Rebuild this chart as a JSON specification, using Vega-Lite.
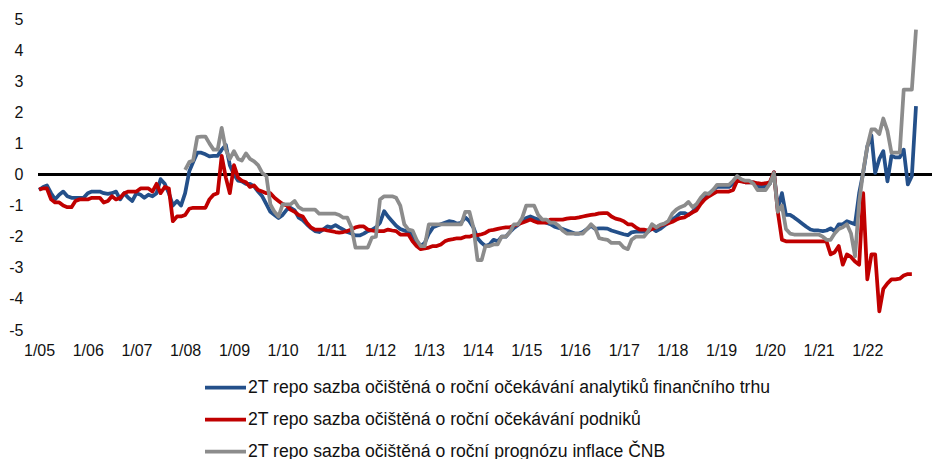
{
  "$schema": "https://vega.github.io/schema/vega-lite/v6.json",
  "width": 894,
  "height": 311,
  "autosize": {"type": "none"},
  "padding": {"left": 38, "top": 19, "right": 0, "bottom": 129},
  "config": {
    "font": "Liberation Sans",
    "view": {"stroke": null},
    "axis": {"labelFont": "Liberation Sans", "labelFontSize": 16, "labelColor": "#111111", "grid": false, "ticks": false, "domain": false, "title": null, "labelOverlap": false}
  },
  "data": {"values": [
    {"d":"2005-01-01","a":-0.5,"b":-0.48},{"d":"2005-02-01","a":-0.4,"b":-0.45},{"d":"2005-03-01","a":-0.35,"b":-0.45},{"d":"2005-04-01","a":-0.6,"b":-0.8},{"d":"2005-05-01","a":-0.8,"b":-0.9},{"d":"2005-06-01","a":-0.65,"b":-0.9},{"d":"2005-07-01","a":-0.55,"b":-1.0},{"d":"2005-08-01","a":-0.7,"b":-1.05},{"d":"2005-09-01","a":-0.75,"b":-1.05},{"d":"2005-10-01","a":-0.75,"b":-0.85},{"d":"2005-11-01","a":-0.75,"b":-0.8},{"d":"2005-12-01","a":-0.75,"b":-0.8},
    {"d":"2006-01-01","a":-0.6,"b":-0.8},{"d":"2006-02-01","a":-0.55,"b":-0.75},{"d":"2006-03-01","a":-0.55,"b":-0.75},{"d":"2006-04-01","a":-0.55,"b":-0.75},{"d":"2006-05-01","a":-0.6,"b":-0.9},{"d":"2006-06-01","a":-0.62,"b":-0.85},{"d":"2006-07-01","a":-0.6,"b":-0.7},{"d":"2006-08-01","a":-0.55,"b":-0.8},{"d":"2006-09-01","a":-0.8,"b":-0.75},{"d":"2006-10-01","a":-0.6,"b":-0.6},{"d":"2006-11-01","a":-0.75,"b":-0.55},{"d":"2006-12-01","a":-0.85,"b":-0.55},
    {"d":"2007-01-01","a":-0.6,"b":-0.55},{"d":"2007-02-01","a":-0.65,"b":-0.45},{"d":"2007-03-01","a":-0.75,"b":-0.45},{"d":"2007-04-01","a":-0.65,"b":-0.45},{"d":"2007-05-01","a":-0.7,"b":-0.55},{"d":"2007-06-01","a":-0.6,"b":-0.3},{"d":"2007-07-01","a":-0.15,"b":-0.6},{"d":"2007-08-01","a":-0.3,"b":-0.4},{"d":"2007-09-01","a":-0.6,"b":-0.45},{"d":"2007-10-01","a":-1.0,"b":-1.5},{"d":"2007-11-01","a":-0.85,"b":-1.35},{"d":"2007-12-01","a":-1.0,"b":-1.35},
    {"d":"2008-01-01","a":-0.6,"b":-1.3,"c":0.15},{"d":"2008-02-01","a":0.1,"b":-1.1,"c":0.4},{"d":"2008-03-01","a":0.4,"b":-1.07,"c":0.45},{"d":"2008-04-01","a":0.7,"b":-1.07,"c":1.2},{"d":"2008-05-01","a":0.7,"b":-1.07,"c":1.22},{"d":"2008-06-01","a":0.65,"b":-1.07,"c":1.22},{"d":"2008-07-01","a":0.58,"b":-0.8,"c":1.0},{"d":"2008-08-01","a":0.6,"b":-0.65,"c":0.8},{"d":"2008-09-01","a":0.6,"b":-0.6,"c":0.8},{"d":"2008-10-01","a":0.8,"b":0.6,"c":1.5},{"d":"2008-11-01","a":0.95,"b":-0.1,"c":0.8},{"d":"2008-12-01","a":0.3,"b":-0.6,"c":0.5},
    {"d":"2009-01-01","a":0.0,"b":0.3,"c":0.75},{"d":"2009-02-01","a":-0.2,"b":-0.1,"c":0.5},{"d":"2009-03-01","a":-0.22,"b":-0.2,"c":0.45},{"d":"2009-04-01","a":-0.3,"b":-0.25,"c":0.68},{"d":"2009-05-01","a":-0.3,"b":-0.4,"c":0.5},{"d":"2009-06-01","a":-0.38,"b":-0.35,"c":0.42},{"d":"2009-07-01","a":-0.55,"b":-0.5,"c":0.3},{"d":"2009-08-01","a":-0.7,"b":-0.55,"c":0.05},{"d":"2009-09-01","a":-0.95,"b":-0.6,"c":-0.05},{"d":"2009-10-01","a":-1.2,"b":-0.6,"c":-0.96},{"d":"2009-11-01","a":-1.3,"b":-0.75,"c":-1.2},{"d":"2009-12-01","a":-1.4,"b":-0.85,"c":-1.35},
    {"d":"2010-01-01","a":-1.3,"b":-0.95,"c":-0.96},{"d":"2010-02-01","a":-1.13,"b":-1.0,"c":-0.96},{"d":"2010-03-01","a":-1.07,"b":-1.13,"c":-0.96},{"d":"2010-04-01","a":-1.15,"b":-1.2,"c":-0.85},{"d":"2010-05-01","a":-1.39,"b":-1.3,"c":-1.05},{"d":"2010-06-01","a":-1.47,"b":-1.35,"c":-1.13},{"d":"2010-07-01","a":-1.6,"b":-1.55,"c":-1.13},{"d":"2010-08-01","a":-1.72,"b":-1.7,"c":-1.13},{"d":"2010-09-01","a":-1.82,"b":-1.77,"c":-1.13},{"d":"2010-10-01","a":-1.85,"b":-1.77,"c":-1.26},{"d":"2010-11-01","a":-1.77,"b":-1.77,"c":-1.26},{"d":"2010-12-01","a":-1.67,"b":-1.8,"c":-1.26},
    {"d":"2011-01-01","a":-1.7,"b":-1.82,"c":-1.26},{"d":"2011-02-01","a":-1.63,"b":-1.85,"c":-1.26},{"d":"2011-03-01","a":-1.7,"b":-1.87,"c":-1.3},{"d":"2011-04-01","a":-1.77,"b":-1.85,"c":-1.39},{"d":"2011-05-01","a":-1.85,"b":-1.82,"c":-1.39},{"d":"2011-06-01","a":-1.9,"b":-1.77,"c":-1.7},{"d":"2011-07-01","a":-1.96,"b":-1.7,"c":-2.35},{"d":"2011-08-01","a":-1.96,"b":-1.67,"c":-2.35},{"d":"2011-09-01","a":-1.9,"b":-1.67,"c":-2.35},{"d":"2011-10-01","a":-1.82,"b":-1.77,"c":-2.35},{"d":"2011-11-01","a":-1.78,"b":-1.8,"c":-2.03},{"d":"2011-12-01","a":-1.7,"b":-1.82,"c":-2.0},
    {"d":"2012-01-01","a":-1.55,"b":-1.82,"c":-0.8},{"d":"2012-02-01","a":-1.18,"b":-1.82,"c":-0.7},{"d":"2012-03-01","a":-1.35,"b":-1.77,"c":-0.7},{"d":"2012-04-01","a":-1.5,"b":-1.8,"c":-0.7},{"d":"2012-05-01","a":-1.65,"b":-1.82,"c":-0.75},{"d":"2012-06-01","a":-1.75,"b":-1.93,"c":-1.0},{"d":"2012-07-01","a":-1.8,"b":-1.93,"c":-1.6},{"d":"2012-08-01","a":-1.85,"b":-1.93,"c":-1.77},{"d":"2012-09-01","a":-1.95,"b":-2.15,"c":-1.8},{"d":"2012-10-01","a":-2.15,"b":-2.3,"c":-2.1},{"d":"2012-11-01","a":-2.3,"b":-2.4,"c":-2.3},{"d":"2012-12-01","a":-2.2,"b":-2.38,"c":-2.3},
    {"d":"2013-01-01","a":-1.9,"b":-2.35,"c":-1.6},{"d":"2013-02-01","a":-1.7,"b":-2.3,"c":-1.6},{"d":"2013-03-01","a":-1.65,"b":-2.3,"c":-1.6},{"d":"2013-04-01","a":-1.6,"b":-2.25,"c":-1.6},{"d":"2013-05-01","a":-1.55,"b":-2.15,"c":-1.6},{"d":"2013-06-01","a":-1.5,"b":-2.1,"c":-1.6},{"d":"2013-07-01","a":-1.52,"b":-2.08,"c":-1.6},{"d":"2013-08-01","a":-1.58,"b":-2.05,"c":-1.6},{"d":"2013-09-01","a":-1.55,"b":-2.05,"c":-1.6},{"d":"2013-10-01","a":-1.38,"b":-2.0,"c":-1.2},{"d":"2013-11-01","a":-1.5,"b":-2.0,"c":-1.2},{"d":"2013-12-01","a":-1.7,"b":-1.95,"c":-1.7},
    {"d":"2014-01-01","a":-2.05,"b":-1.95,"c":-2.75},{"d":"2014-02-01","a":-2.2,"b":-1.92,"c":-2.75},{"d":"2014-03-01","a":-2.3,"b":-1.88,"c":-2.3},{"d":"2014-04-01","a":-2.25,"b":-1.8,"c":-2.3},{"d":"2014-05-01","a":-2.1,"b":-1.78,"c":-2.25},{"d":"2014-06-01","a":-2.15,"b":-1.75,"c":-2.25},{"d":"2014-07-01","a":-2.0,"b":-1.72,"c":-2.0},{"d":"2014-08-01","a":-2.0,"b":-1.7,"c":-2.0},{"d":"2014-09-01","a":-1.85,"b":-1.7,"c":-1.85},{"d":"2014-10-01","a":-1.72,"b":-1.65,"c":-1.6},{"d":"2014-11-01","a":-1.62,"b":-1.6,"c":-1.6},{"d":"2014-12-01","a":-1.5,"b":-1.55,"c":-1.4},
    {"d":"2015-01-01","a":-1.4,"b":-1.5,"c":-1.0},{"d":"2015-02-01","a":-1.35,"b":-1.45,"c":-1.0},{"d":"2015-03-01","a":-1.4,"b":-1.5,"c":-1.0},{"d":"2015-04-01","a":-1.45,"b":-1.55,"c":-1.3},{"d":"2015-05-01","a":-1.5,"b":-1.55,"c":-1.45},{"d":"2015-06-01","a":-1.55,"b":-1.55,"c":-1.45},{"d":"2015-07-01","a":-1.6,"b":-1.45,"c":-1.55},{"d":"2015-08-01","a":-1.68,"b":-1.45,"c":-1.55},{"d":"2015-09-01","a":-1.72,"b":-1.45,"c":-1.65},{"d":"2015-10-01","a":-1.75,"b":-1.45,"c":-1.8},{"d":"2015-11-01","a":-1.8,"b":-1.42,"c":-1.9},{"d":"2015-12-01","a":-1.85,"b":-1.4,"c":-1.9},
    {"d":"2016-01-01","a":-1.9,"b":-1.4,"c":-1.9},{"d":"2016-02-01","a":-1.9,"b":-1.38,"c":-1.9},{"d":"2016-03-01","a":-1.85,"b":-1.35,"c":-1.9},{"d":"2016-04-01","a":-1.75,"b":-1.32,"c":-1.75},{"d":"2016-05-01","a":-1.65,"b":-1.3,"c":-1.6},{"d":"2016-06-01","a":-1.75,"b":-1.28,"c":-1.73},{"d":"2016-07-01","a":-1.73,"b":-1.25,"c":-2.05},{"d":"2016-08-01","a":-1.73,"b":-1.24,"c":-2.08},{"d":"2016-09-01","a":-1.74,"b":-1.24,"c":-2.1},{"d":"2016-10-01","a":-1.8,"b":-1.35,"c":-2.2},{"d":"2016-11-01","a":-1.84,"b":-1.42,"c":-2.2},{"d":"2016-12-01","a":-1.88,"b":-1.45,"c":-2.2},
    {"d":"2017-01-01","a":-1.92,"b":-1.5,"c":-2.35},{"d":"2017-02-01","a":-1.95,"b":-1.6,"c":-2.4},{"d":"2017-03-01","a":-1.86,"b":-1.6,"c":-2.1},{"d":"2017-04-01","a":-1.84,"b":-1.7,"c":-2.0},{"d":"2017-05-01","a":-1.84,"b":-1.77,"c":-2.0},{"d":"2017-06-01","a":-1.84,"b":-1.77,"c":-2.0},{"d":"2017-07-01","a":-1.84,"b":-1.8,"c":-1.84},{"d":"2017-08-01","a":-1.73,"b":-1.75,"c":-1.6},{"d":"2017-09-01","a":-1.82,"b":-1.7,"c":-1.7},{"d":"2017-10-01","a":-1.75,"b":-1.65,"c":-1.62},{"d":"2017-11-01","a":-1.65,"b":-1.6,"c":-1.58},{"d":"2017-12-01","a":-1.55,"b":-1.57,"c":-1.5},
    {"d":"2018-01-01","a":-1.45,"b":-1.52,"c":-1.25},{"d":"2018-02-01","a":-1.35,"b":-1.45,"c":-1.12},{"d":"2018-03-01","a":-1.24,"b":-1.4,"c":-1.05},{"d":"2018-04-01","a":-1.24,"b":-1.38,"c":-1.0},{"d":"2018-05-01","a":-1.3,"b":-1.3,"c":-0.88},{"d":"2018-06-01","a":-1.2,"b":-1.22,"c":-1.05},{"d":"2018-07-01","a":-1.05,"b":-1.15,"c":-0.95},{"d":"2018-08-01","a":-0.9,"b":-0.95,"c":-0.75},{"d":"2018-09-01","a":-0.78,"b":-0.8,"c":-0.6},{"d":"2018-10-01","a":-0.62,"b":-0.7,"c":-0.62},{"d":"2018-11-01","a":-0.5,"b":-0.62,"c":-0.5},{"d":"2018-12-01","a":-0.4,"b":-0.55,"c":-0.33},
    {"d":"2019-01-01","a":-0.4,"b":-0.55,"c":-0.33},{"d":"2019-02-01","a":-0.4,"b":-0.55,"c":-0.33},{"d":"2019-03-01","a":-0.4,"b":-0.55,"c":-0.33},{"d":"2019-04-01","a":-0.3,"b":-0.5,"c":-0.2},{"d":"2019-05-01","a":-0.1,"b":-0.2,"c":-0.05},{"d":"2019-06-01","a":-0.2,"b":-0.22,"c":-0.15},{"d":"2019-07-01","a":-0.25,"b":-0.25,"c":-0.2},{"d":"2019-08-01","a":-0.25,"b":-0.25,"c":-0.2},{"d":"2019-09-01","a":-0.25,"b":-0.25,"c":-0.3},{"d":"2019-10-01","a":-0.4,"b":-0.28,"c":-0.5},{"d":"2019-11-01","a":-0.4,"b":-0.3,"c":-0.5},{"d":"2019-12-01","a":-0.4,"b":-0.28,"c":-0.5},
    {"d":"2020-01-01","a":-0.3,"b":-0.25,"c":-0.3},{"d":"2020-02-01","a":0.07,"b":0.07,"c":0.05},{"d":"2020-03-01","a":-1.1,"b":-1.2,"c":-1.2},{"d":"2020-04-01","a":-0.6,"b":-2.1,"c":-1.0},{"d":"2020-05-01","a":-1.3,"b":-2.15,"c":-1.75},{"d":"2020-06-01","a":-1.3,"b":-2.15,"c":-1.9},{"d":"2020-07-01","a":-1.38,"b":-2.15,"c":-1.93},{"d":"2020-08-01","a":-1.48,"b":-2.15,"c":-1.93},{"d":"2020-09-01","a":-1.58,"b":-2.15,"c":-1.93},{"d":"2020-10-01","a":-1.68,"b":-2.15,"c":-1.93},{"d":"2020-11-01","a":-1.77,"b":-2.15,"c":-1.93},{"d":"2020-12-01","a":-1.8,"b":-2.15,"c":-1.93},
    {"d":"2021-01-01","a":-1.8,"b":-2.15,"c":-1.93},{"d":"2021-02-01","a":-1.82,"b":-2.15,"c":-2.0},{"d":"2021-03-01","a":-1.8,"b":-2.15,"c":-2.1},{"d":"2021-04-01","a":-1.73,"b":-2.57,"c":-2.1},{"d":"2021-05-01","a":-1.82,"b":-2.5,"c":-1.9},{"d":"2021-06-01","a":-1.6,"b":-2.3,"c":-1.75},{"d":"2021-07-01","a":-1.6,"b":-2.9,"c":-1.7},{"d":"2021-08-01","a":-1.5,"b":-2.57,"c":-1.6},{"d":"2021-09-01","a":-1.55,"b":-2.65,"c":-1.9},{"d":"2021-10-01","a":-1.6,"b":-2.8,"c":-2.63},{"d":"2021-11-01","a":-0.6,"b":-2.9,"c":-0.9},{"d":"2021-12-01","a":0.05,"b":-0.6,"c":0.1},
    {"d":"2022-01-01","a":0.9,"b":-3.37,"c":0.9},{"d":"2022-02-01","a":1.25,"b":-2.57,"c":1.45},{"d":"2022-03-01","a":0.05,"b":-2.57,"c":1.45},{"d":"2022-04-01","a":0.5,"b":-4.4,"c":1.3},{"d":"2022-05-01","a":0.75,"b":-3.68,"c":1.8},{"d":"2022-06-01","a":-0.22,"b":-3.5,"c":1.4},{"d":"2022-07-01","a":0.6,"b":-3.37,"c":0.7},{"d":"2022-08-01","a":0.55,"b":-3.37,"c":0.7},{"d":"2022-09-01","a":0.55,"b":-3.35,"c":0.7},{"d":"2022-10-01","a":0.8,"b":-3.25,"c":2.73},{"d":"2022-11-01","a":-0.32,"b":-3.2,"c":2.73},{"d":"2022-12-01","a":-0.05,"b":-3.2,"c":2.73},
    {"d":"2023-01-01","a":2.2,"c":4.66}
  ]},
  "layer": [
    {
      "mark": {"type": "rule", "color": "#000000", "strokeWidth": 1.5},
      "encoding": {"y": {"datum": 0, "type": "quantitative"}}
    },
    {
      "transform": [
        {"fold": ["a", "b", "c"], "as": ["k", "v"]},
        {"filter": "isValid(datum.v)"}
      ],
      "mark": {"type": "line", "strokeWidth": 3.75, "strokeJoin": "round"},
      "encoding": {
        "x": {
          "field": "d", "type": "temporal",
          "scale": {"type": "utc", "domain": [{"year": 2004, "month": 12, "date": 24, "utc": true}, {"year": 2023, "month": 5, "date": 1, "utc": true}]},
          "axis": {
            "labelExpr": "utcFormat(datum.value, '%-m/%y')", "labelPadding": 12, "labelFlush": false,
            "values": [
              {"year": 2005, "month": 1, "date": 1, "utc": true},{"year": 2006, "month": 1, "date": 1, "utc": true},{"year": 2007, "month": 1, "date": 1, "utc": true},{"year": 2008, "month": 1, "date": 1, "utc": true},{"year": 2009, "month": 1, "date": 1, "utc": true},{"year": 2010, "month": 1, "date": 1, "utc": true},{"year": 2011, "month": 1, "date": 1, "utc": true},{"year": 2012, "month": 1, "date": 1, "utc": true},{"year": 2013, "month": 1, "date": 1, "utc": true},{"year": 2014, "month": 1, "date": 1, "utc": true},{"year": 2015, "month": 1, "date": 1, "utc": true},{"year": 2016, "month": 1, "date": 1, "utc": true},{"year": 2017, "month": 1, "date": 1, "utc": true},{"year": 2018, "month": 1, "date": 1, "utc": true},{"year": 2019, "month": 1, "date": 1, "utc": true},{"year": 2020, "month": 1, "date": 1, "utc": true},{"year": 2021, "month": 1, "date": 1, "utc": true},{"year": 2022, "month": 1, "date": 1, "utc": true}
            ]
          }
        },
        "y": {
          "field": "v", "type": "quantitative",
          "scale": {"domain": [-5, 5], "nice": false, "zero": false},
          "axis": {"values": [-5, -4, -3, -2, -1, 0, 1, 2, 3, 4, 5], "tickCount": 11, "labelOverlap": false, "labelExpr": "'' + datum.value", "labelPadding": 15}
        },
        "color": {
          "field": "k", "type": "nominal",
          "scale": {"domain": ["a", "b", "c"], "range": ["#24508A", "#C00000", "#8C8C8C"]},
          "legend": {
            "title": null, "orient": "none", "legendX": 165, "legendY": 346, "direction": "vertical",
            "symbolType": "stroke", "symbolSize": 1681, "symbolStrokeWidth": 3.75,
            "labelFontSize": 17.6, "labelFont": "Liberation Sans", "labelColor": "#111111", "labelOffset": 0, "rowPadding": -13, "labelLimit": 800,
            "labelExpr": "datum.label == 'a' ? '2T repo sazba očištěná o roční očekávání analytiků finančního trhu' : datum.label == 'b' ? '2T repo sazba očištěná o roční očekávání podniků' : '2T repo sazba očištěná o roční prognózu inflace ČNB'"
          }
        }
      }
    }
  ]
}
